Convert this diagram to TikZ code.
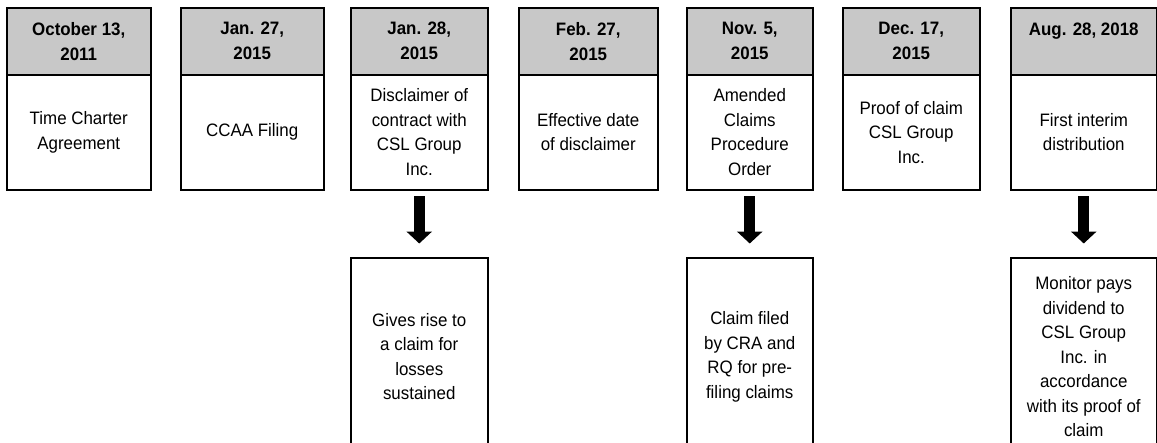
\documentclass[tikz,border=0pt]{standalone}
\usepackage{fontspec}
\setmainfont[FakeStretch=0.94]{Liberation Sans}
\usetikzlibrary{arrows.meta}
\definecolor{hdr}{RGB}{200,200,200}
\tikzset{
  boxbase/.style={draw=black, line width=1.5pt, inner sep=0pt, align=center,
    font=\fontsize{18}{24.5}\selectfont},
  hdrbox/.style={boxbase, fill=hdr, minimum height=67pt,
    font=\fontsize{18}{25}\selectfont\bfseries},
  bodybox/.style={boxbase, fill=white, minimum height=115pt},
  lowbox/.style={boxbase, fill=white, minimum height=198pt},
  bigarrow/.style={line width=11pt, -{Triangle[length=12pt,width=25pt]},
    shorten <=5.5pt, shorten >=13.5pt}
}
\newcommand\mydatebox[5]{%
  \node[hdrbox, minimum width={(#3-#2)*1pt}, anchor=north west] (#1h) at (#2,7) {#4};
  \node[bodybox, minimum width={(#3-#2)*1pt}, anchor=north west] (#1b) at (#2,74) {#5};
}
\begin{document}
\begin{tikzpicture}[x=1pt,y=-1pt]
\useasboundingbox (0,0) rectangle (1157,442);
\clip (0,0) rectangle (1157,442);
\mydatebox{a}{6}{150}{October 13,\\2011}{Time Charter\\Agreement}
\mydatebox{b}{180}{323}{Jan. 27,\\2015}{CCAA Filing}
\mydatebox{c}{350}{487}{Jan. 28,\\2015}{Disclaimer of\\contract with\\CSL Group\\Inc.}
\mydatebox{d}{518}{657}{Feb. 27,\\2015}{Effective date\\of disclaimer}
\mydatebox{e}{686}{812}{Nov. 5,\\2015}{Amended\\Claims\\Procedure\\Order}
\mydatebox{f}{842}{979}{Dec. 17,\\2015}{Proof of claim\\CSL Group\\Inc.}
\mydatebox{g}{1010}{1156}{Aug. 28, 2018\\\mbox{}}{First interim\\distribution}
\node[lowbox, minimum width=137pt, anchor=north west] (cl) at (350,257)
  {Gives rise to\\a claim for\\losses\\sustained};
\node[lowbox, minimum width=126pt, anchor=north west] (el) at (686,257)
  {Claim filed\\by CRA and\\RQ for pre-\\filing claims};
\node[lowbox, minimum width=146pt, anchor=north west] (gl) at (1010,257)
  {Monitor pays\\dividend to\\CSL Group\\Inc. in\\accordance\\with its proof of\\claim};
\draw[bigarrow] (cb.south) -- (cl.north);
\draw[bigarrow] (eb.south) -- (el.north);
\draw[bigarrow] (gb.south) -- (gl.north);
\end{tikzpicture}
\end{document}
